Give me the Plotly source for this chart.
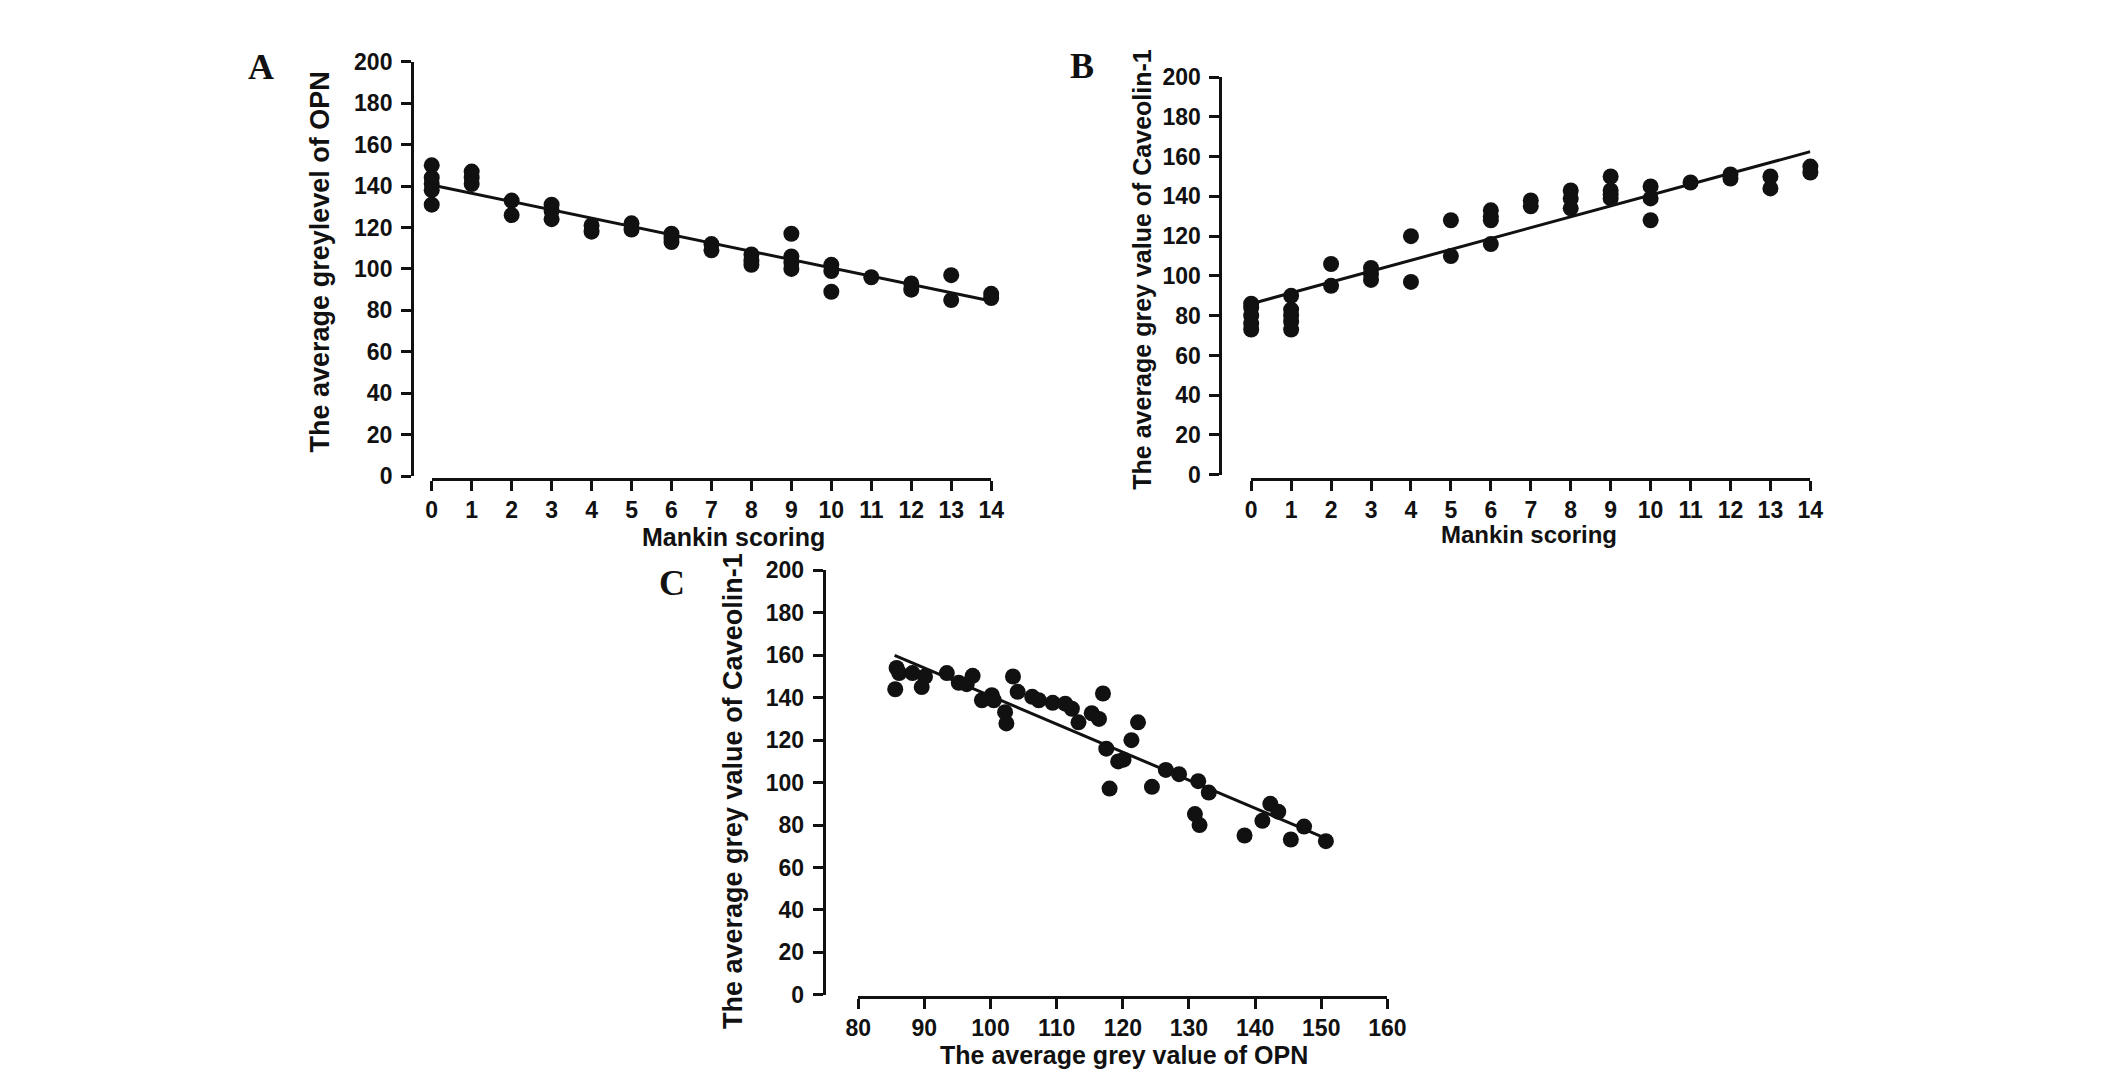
import plotly.graph_objects as go

W, H = 2126, 1075
FONT = "Liberation Sans, Arial, sans-serif"

# Panel A: Mankin scoring vs average grey level of OPN
a_score = [0, 0, 0, 0, 0, 1, 1, 1, 2, 2, 3, 3, 3, 4, 4, 5, 5, 6, 6, 6,
           7, 7, 8, 8, 8, 9, 9, 9, 9, 10, 10, 10, 11, 12, 12, 13, 13, 14, 14]
a_opn = [150, 144, 141, 138, 131, 147, 144, 141, 133, 126, 131, 128, 124, 121, 118,
         122, 119, 117, 115, 113, 112, 109, 107, 104, 102, 117, 106, 103, 100,
         102, 99, 89, 96, 93, 90, 97, 85, 88, 86]
a_fit_x = [0, 14]
a_fit_y = [140.5, 84.5]

# Panel B: Mankin scoring vs average grey value of Caveolin-1
b_score = [0, 0, 0, 0, 0, 1, 1, 1, 1, 1, 2, 2, 3, 3, 3, 4, 4, 5, 5, 6, 6, 6, 6,
           7, 7, 8, 8, 8, 9, 9, 9, 9, 10, 10, 10, 11, 12, 12, 13, 13, 14, 14]
b_cav = [86, 84, 80, 76, 73, 90, 83, 80, 77, 73, 106, 95, 104, 101, 98, 120, 97,
         128, 110, 133, 130, 128, 116, 138, 135, 143, 139, 134, 150, 143, 141, 139,
         145, 139, 128, 147, 151, 149, 150, 144, 155, 152]
b_fit_x = [0, 14]
b_fit_y = [86, 162.5]

# Panel C: OPN vs Caveolin-1
c_opn = [85.6, 85.8, 86.2, 88.2, 89.6, 90.1, 93.4, 95.2, 96.4, 97.3, 98.7, 100.2,
         100.5, 102.2, 102.4, 103.4, 104.1, 106.3, 107.3, 109.4, 111.3, 112.3, 113.3,
         115.3, 116.4, 117.0, 117.5, 118.0, 119.3, 120.1, 121.3, 122.3, 124.4, 126.5,
         128.5, 131.4, 130.9, 131.6, 133.0, 138.4, 141.1, 142.3, 143.5, 145.4, 147.4, 150.7]
c_cav = [144, 154, 151.6, 151.6, 145, 150, 151.6, 147, 146.4, 150.3, 138.8, 141.2,
         138.8, 133.2, 127.9, 150, 142.8, 140.4, 138.8, 137.6, 137.2, 134.8, 128.4,
         132.7, 130, 142, 116, 97.2, 110, 110.8, 120, 128.4, 98, 106, 104,
         100.7, 85.2, 80, 95.3, 75.1, 82, 90, 86.3, 73.2, 79.3, 72.4]
c_fit_x = [85.5, 150.5]
c_fit_y = [160, 74]

y_ticks = [0, 20, 40, 60, 80, 100, 120, 140, 160, 180, 200]
score_ticks = list(range(0, 15))
opn_ticks = [80, 90, 100, 110, 120, 130, 140, 150, 160]


def px(x):
    return x / W


def py(y):
    return 1 - y / H


fig = go.Figure()

panels = [
    (a_score, a_opn, a_fit_x, a_fit_y, "x", "y"),
    (b_score, b_cav, b_fit_x, b_fit_y, "x2", "y2"),
    (c_opn, c_cav, c_fit_x, c_fit_y, "x3", "y3"),
]
for xs, ys, fx, fy, xa, ya in panels:
    fig.add_trace(go.Scatter(x=xs, y=ys, mode="markers", xaxis=xa, yaxis=ya,
                             marker=dict(size=16, color="#111111"),
                             cliponaxis=False, showlegend=False))
    fig.add_trace(go.Scatter(x=fx, y=fy, mode="lines", xaxis=xa, yaxis=ya,
                             line=dict(color="#111111", width=3),
                             cliponaxis=False, showlegend=False))

tick_font = dict(family=FONT, size=23, color="#111111", weight="bold")


def ax(**kw):
    d = dict(showline=True, linewidth=3, linecolor="#111111", ticks="outside",
             ticklen=10, tickwidth=3, tickcolor="#111111", showgrid=False,
             zeroline=False, tickfont=tick_font, anchor="free", fixedrange=True)
    d.update(kw)
    return d


fig.update_layout(
    width=W, height=H,
    margin=dict(l=0, r=0, t=0, b=0),
    paper_bgcolor="white", plot_bgcolor="white",
    xaxis=ax(domain=[px(417), px(985)], range=[0, 14], tickvals=score_ticks,
             position=py(469)),
    yaxis=ax(domain=[py(466.5), py(41.7)], range=[0, 200], tickvals=y_ticks,
             position=px(397), ticklabelstandoff=4),
    xaxis2=ax(domain=[px(1249), px(1816.7)], range=[0, 14], tickvals=score_ticks,
              position=py(469)),
    yaxis2=ax(domain=[py(465), py(57.5)], range=[0, 200], tickvals=y_ticks,
              position=px(1217.7), ticklabelstandoff=4),
    xaxis3=ax(domain=[px(850), px(1387.3)], range=[80, 160], tickvals=opn_ticks,
              position=py(1000)),
    yaxis3=ax(domain=[py(998), py(563)], range=[0, 200], tickvals=y_ticks,
              position=px(815), ticklabelstandoff=4),
)


def label(text, x, y, size, angle=0, family=FONT):
    fig.add_annotation(text=text, x=px(x), y=py(y), xref="paper", yref="paper",
                       showarrow=False, textangle=angle, xanchor="center",
                       yanchor="middle",
                       font=dict(family=family, size=size, color="#111111",
                                 weight="bold"))


# axis titles
label("The average greylevel of OPN", 304, 247, 27, -90)
label("Mankin scoring", 723, 529, 25)
label("The average grey value of Caveolin-1", 1138, 254, 25, -90)
label("Mankin scoring", 1531, 526, 24)
label("The average grey value of Caveolin-1", 723, 789, 27, -90)
label("The average grey value of OPN", 1120, 1060, 25)

# panel letters
serif = "Liberation Serif, Times New Roman, serif"
label("A", 244, 47, 36, family=serif)
label("B", 1077, 46, 36, family=serif)
label("C", 661, 576, 36, family=serif)

fig.write_html("out.html")
